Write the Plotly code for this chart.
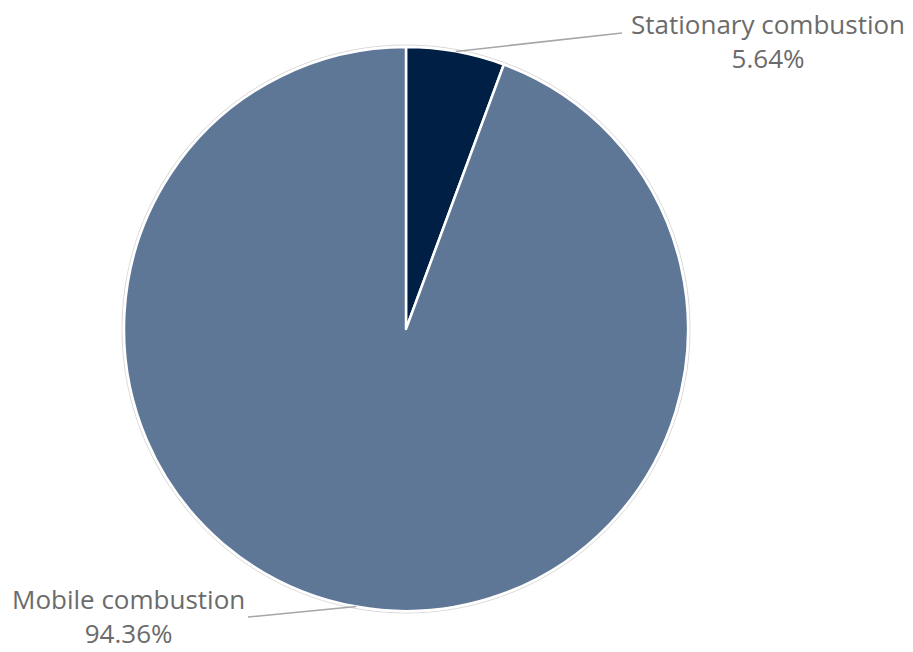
import math
import plotly.graph_objects as go

# Emission shares by combustion source
labels = ["Stationary combustion", "Mobile combustion"]
values = [5.64, 94.36]
colors = ["#001f45", "#5f7797"]

W, H = 913, 652
cx, cy, r = 406, 329, 282  # pie centre and radius in pixels

def px(x):
    return x / W

def py(y):
    return 1 - y / H

fig = go.Figure(go.Pie(
    labels=labels,
    values=values,
    sort=False,
    direction="clockwise",
    rotation=0,
    textinfo="none",
    hoverinfo="label+percent",
    marker=dict(colors=colors, line=dict(color="white", width=2.5)),
    domain=dict(x=[px(cx - r), px(cx + r)], y=[py(cy + r), py(cy - r)]),
    showlegend=False,
))

# faint outline around the pie
fig.add_shape(type="circle", xref="paper", yref="paper",
              x0=px(cx - r - 2), x1=px(cx + r + 2),
              y0=py(cy + r + 2), y1=py(cy - r - 2),
              line=dict(color="#d9d9d9", width=1), layer="below")

# label layout (pixels): end of leader line, text centre x, text anchor y
label_pos = [
    dict(end=(622, 33), x=768, y=5, yanchor="top"),
    dict(end=(248, 617), x=128, y=H, yanchor="bottom"),
]

font = dict(family="Open Sans", size=26, color="#6b6b6b")

total = sum(values)
start = 0.0
for lab, val, pos in zip(labels, values, label_pos):
    mid = (start + val / 2) / total * 2 * math.pi
    start += val
    sx = cx + r * math.sin(mid)
    sy = cy - r * math.cos(mid)
    ex, ey = pos["end"]
    fig.add_shape(type="line", xref="paper", yref="paper",
                  x0=px(sx), y0=py(sy), x1=px(ex), y1=py(ey),
                  line=dict(color="#a6a6a6", width=1.5))
    fig.add_annotation(
        x=px(pos["x"]), y=py(pos["y"]), xref="paper", yref="paper",
        text=f"{lab}<br>{val:.2f}%", showarrow=False,
        xanchor="center", yanchor=pos["yanchor"], align="center",
        borderpad=0, font=font,
    )

fig.update_layout(
    width=W, height=H,
    margin=dict(l=0, r=0, t=0, b=0),
    paper_bgcolor="white",
    plot_bgcolor="white",
)

fig.write_html("out.html")
